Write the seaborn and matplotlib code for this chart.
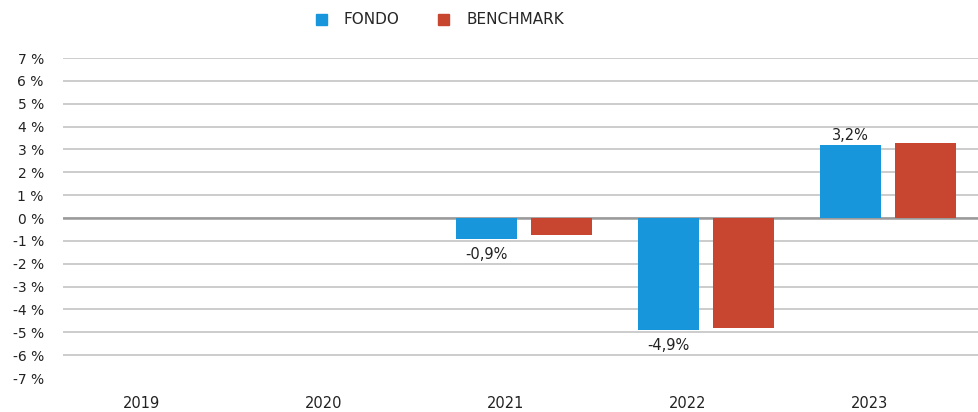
import numpy as np
import pandas as pd
import matplotlib
matplotlib.use("Agg")
import matplotlib.pyplot as plt
import seaborn as sns

# data
years = ["2019", "2020", "2021", "2022", "2023"]
fondo = [np.nan, np.nan, -0.9, -4.9, 3.2]
benchmark = [np.nan, np.nan, -0.75, -4.8, 3.3]
series = ["FONDO", "BENCHMARK"]
colors = ["#1896dc", "#c8462f"]
y_ticks = list(range(-7, 8))

sns.set_style("white")
plt.rcParams["font.family"] = ["DejaVu Sans"]

df = pd.DataFrame({
    "year": years * 2,
    "value": fondo + benchmark,
    "serie": [series[0]] * len(years) + [series[1]] * len(years),
})

fig = plt.figure(figsize=(9.79, 4.12), dpi=100)
ax = fig.add_axes([63 / 979, 34 / 412, 916 / 979, 320 / 412])

sns.barplot(data=df, x="year", y="value", hue="serie", order=years,
            hue_order=series, palette=colors, width=0.824, gap=0.187,
            saturation=1, errorbar=None, ax=ax, legend=False,
            linewidth=0, zorder=3)

ax.set_xlim(-0.533, 4.5)
ax.set_ylim(-7, 7)
ax.set_yticks(y_ticks)
ax.set_yticklabels([f"{t} %" for t in y_ticks])
ax.set_xlabel("")
ax.set_ylabel("")

for s in ax.spines.values():
    s.set_visible(False)
ax.spines["bottom"].set_position(("outward", 4.3))
ax.spines["left"].set_position(("outward", 4.3))
ax.tick_params(axis="y", length=3, width=1, color="#c8c8c8", pad=6.5,
               labelsize=10, labelcolor="#222222")
ax.tick_params(axis="x", length=3.6, width=1, color="#c8c8c8", pad=5,
               labelsize=10.5, labelcolor="#222222")
for lbl in ax.get_xticklabels():
    lbl.set_ha("right")

ax.yaxis.grid(True, color="#cccccc", linewidth=1.4, zorder=0)
ax.xaxis.grid(False)
ax.set_axisbelow(True)
ax.axhline(0, color="#9a9a9a", linewidth=1.8, zorder=2)
fig.canvas.draw()
ax.yaxis.get_gridlines()[0].set_visible(False)

# data labels only on FONDO
cont = ax.containers[0]
fmt = lambda v: f"{v:.1f}%".replace(".", ",")
pos = ["" if np.isnan(v) or v < 0 else fmt(v) for v in cont.datavalues]
neg = ["" if np.isnan(v) or v >= 0 else fmt(v) for v in cont.datavalues]
ax.bar_label(cont, labels=pos, padding=1.5, fontsize=10.5, color="#222222")
ax.bar_label(cont, labels=neg, padding=6, fontsize=10.5, color="#222222")

handles = [plt.Rectangle((0, 0), 1, 1, color=c) for c in colors]
fig.legend(handles, series, loc="center left", bbox_to_anchor=(308 / 979, 1 - 20 / 412),
           ncol=2, frameon=False, fontsize=11, borderpad=0, handlelength=0.75,
           handleheight=0.75, handletextpad=1.1, columnspacing=2.5)

fig.savefig("out.png", dpi=100)
